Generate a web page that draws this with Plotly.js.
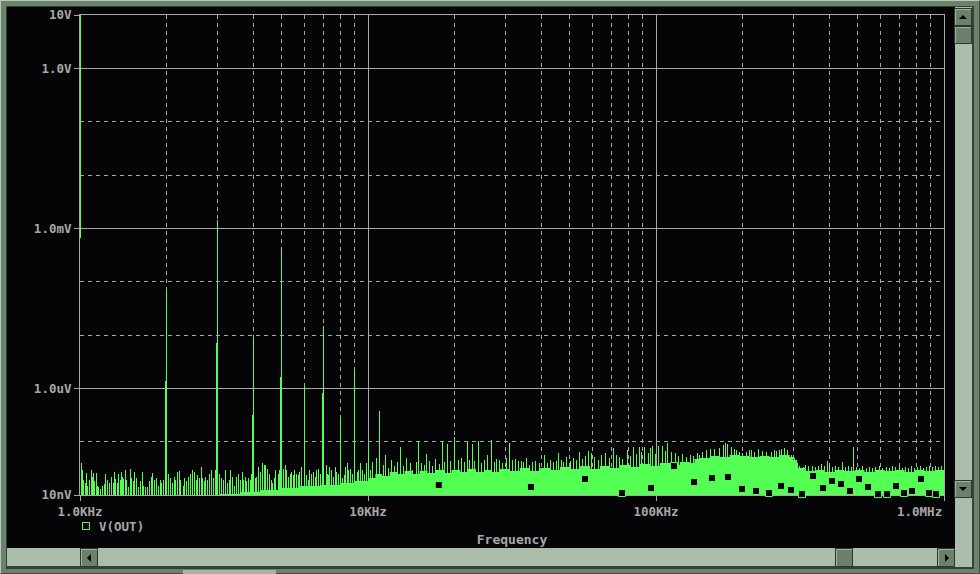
<!DOCTYPE html>
<html><head><meta charset="utf-8">
<script src="https://cdn.plot.ly/plotly-3.0.1.min.js"></script>
<style>
html,body{margin:0;padding:0;width:980px;height:574px;overflow:hidden;background:#6c826c;}
.fr{position:absolute;box-sizing:border-box;}
.btn{position:absolute;box-sizing:border-box;background:#6b816b;border:1px solid #2b372b;box-shadow:inset 1px 1px 0 #9fb39f;}
.tri{position:absolute;width:0;height:0;}
#plot{position:absolute;left:0;top:0;width:980px;height:574px;}
path.js-line{shape-rendering:crispEdges;}
</style></head><body>
<div class="fr" style="left:0;top:0;width:980px;height:574px;border-top:1px solid #b9c9b9;border-left:1px solid #b9c9b9;border-right:1px solid #3f4f3f;border-bottom:1px solid #3f4f3f;"></div>
<div class="fr" style="left:6px;top:6px;width:968px;height:563px;background:#34423a;"></div>
<div class="fr" style="left:7px;top:7px;width:948px;height:541px;background:#050507;"></div>
<div class="fr" style="left:955px;top:7px;width:17px;height:560px;background:#abbdab;"></div>
<div class="fr" style="left:7px;top:548px;width:948px;height:18px;background:#abbdab;"></div>
<div class="fr" style="left:183px;top:570px;width:93px;height:4px;background:#a3b5a3;"></div>
<div class="btn" style="left:954px;top:8px;width:18px;height:18px;"><div class="tri" style="left:4px;top:6px;border-left:4px solid transparent;border-right:4px solid transparent;border-bottom:4px solid #000;"></div></div>
<div class="btn" style="left:954px;top:26px;width:18px;height:18px;"></div>
<div class="btn" style="left:954px;top:480px;width:18px;height:18px;"><div class="tri" style="left:4px;top:6px;border-left:4px solid transparent;border-right:4px solid transparent;border-top:4px solid #000;"></div></div>
<div class="btn" style="left:80px;top:548px;width:18px;height:19px;"><div class="tri" style="left:6px;top:5px;border-top:4px solid transparent;border-bottom:4px solid transparent;border-right:4px solid #000;"></div></div>
<div class="btn" style="left:835px;top:548px;width:18px;height:19px;"></div>
<div class="btn" style="left:937px;top:548px;width:18px;height:19px;"><div class="tri" style="left:7px;top:5px;border-top:4px solid transparent;border-bottom:4px solid transparent;border-left:4px solid #000;"></div></div>
<div id="plot"></div>
<script>
// ---- data (frequencies in kHz, amplitudes in nV unless noted) ----
const xTickVals = [1e3, 1e4, 1e5, 1e6];
const xTickText = ['1.0KHz', '10KHz', '100KHz', ''];
const xLastLabel = '1.0MHz';
const yTickVals = [1e-8, 1e-6, 1e-3, 1, 10];
const yTickText = ['10nV', '1.0uV', '1.0mV', '1.0V', '10V'];
const xMinorVals = [2e3,3e3,4e3,5e3,6e3,7e3,8e3,9e3,2e4,3e4,4e4,5e4,6e4,7e4,8e4,9e4,2e5,3e5,4e5,5e5,6e5,7e5,8e5,9e5];
const yMinorVals = [1e-7, 1e-5, 1e-4, 1e-2, 1e-1];

const fundFreqK = [1.0, 1.001];
const fundV = [20, 6.6e-4];

const harmFreqK = [2, 3, 4, 5, 6, 7, 8, 9, 10, 11];
const harmPeakV = [6.7e-5, 1.43e-3, 8.4e-6, 4.3e-4, 1.1e-6, 1.5e-5, 2.8e-7, 2.1e-6, 9.4e-8, 3.8e-7];
const harmSideFreqK = [1.985, 2.98, 3.97, 4.96, 6.95];
const harmSideV = [1.37e-6, 7.1e-6, 3.2e-7, 1.63e-6, 8.2e-7];

const leftFreqK = [1.008,1.022,1.032,1.041,1.052,1.063,1.077,1.092,1.104,1.113,
1.127,1.137,1.149,1.164,1.180,1.196,1.215,1.228,1.244,1.264,
1.288,1.305,1.316,1.330,1.348,1.362,1.380,1.391,1.406,1.421,
1.437,1.452,1.472,1.495,1.511,1.531,1.552,1.573,1.594,1.616,
1.646,1.668,1.690,1.718,1.750,1.774,1.788,1.812,1.846,1.871,
1.896,1.921,1.947,1.973,2.027,2.054,2.087,2.121,2.148,2.183,
2.213,2.242,2.285,2.315,2.347,2.384,2.423,2.455,2.488,2.528,
2.562,2.596,2.638,2.667,2.702,2.738,2.775,2.827,2.865,2.904,
2.943,2.983,3.047,3.096,3.146,3.196,3.248,3.300,3.336,3.389,
3.426,3.481,3.537,3.594,3.652,3.691,3.751,3.791,3.842,3.893,
3.945,4.063,4.107,4.162,4.217,4.285,4.354,4.424,4.483,4.543,
4.616,4.666,4.728,4.792,4.870,4.922,5.082,5.150,5.219,5.289,
5.360,5.432,5.504,5.578,5.652,5.728,5.805,5.883,6.122,6.221,
6.288,6.389,6.458,6.547,6.634,6.741,6.813,6.923,7.148,7.224,
7.302,7.379,7.479,7.579,7.681,7.784,7.888,8.144,8.276,8.364,
8.476,8.567,8.705,8.846,9.182,9.281,9.430,9.582,9.711,9.842];
const leftAmpN = [40,29,19,17,26,15,19,30,22,26,
18,26,15,14,13,15,16,25,19,17,
22,17,27,20,17,25,19,27,22,20,
29,19,14,31,21,18,27,21,14,18,
27,15,14,14,18,22,26,19,21,15,
19,17,19,29,25,21,17,22,19,27,
28,19,15,21,18,22,25,29,27,19,
24,21,34,21,18,22,19,25,29,21,
29,37,25,21,19,29,17,19,29,22,
15,22,25,19,27,19,22,18,21,19,
25,21,22,34,27,39,37,37,31,25,
19,17,21,29,25,29,31,37,29,22,
25,27,24,29,25,24,27,34,24,19,
29,25,27,22,29,31,25,29,37,25,
24,34,29,22,34,27,25,21,24,34,
40,29,31,25,27,29,39,30,25,39];

const rightFreqK = [10.2,10.4,10.7,11.3,11.5,11.8,12.1,12.4,12.7,13.0,
13.3,13.6,14.0,14.3,14.7,15.0,15.3,15.7,16.0,16.4,
16.8,17.2,17.7,18.1,18.5,18.9,19.4,20.0,20.6,21.1,
21.6,22.1,22.6,23.0,23.5,24.1,24.7,25.3,26.1,26.9,
27.6,28.0,28.7,29.4,30.3,31.1,31.8,32.6,33.4,34.0,
34.8,35.6,36.5,37.4,38.3,39.3,40.9,41.9,42.9,43.9,
45.0,46.0,47.1,47.9,49.0,50.3,51.5,52.8,54.1,55.4,
56.7,58.5,59.9,61.4,62.9,64.9,67.0,68.7,71.0,72.7,
74.4,76.2,79.4,81.3,83.3,85.3,87.3,89.4,91.5,93.9,
95.4,96.9,99.2,102,105.5,108,110,113,116.5,120,
124,128,132,135,139,142,145,150,155,160,
166,171,175,177,183,187,190,195,200,206,
212,215,220,227,234,242,252,258,263,269,
273,280,286,296,303,309,316,324,331,339,
350,359,367,376,385,395,401,411,421,431,
444,455,467,479,486,498,510,522,539,552,
565,579,598,612,633,648,664,680,702,719,
736,754,772,790,810,830,849,870,891,912,
935,957,980];
const rightAmpN = [29,42,49,37,56,32,45,35,42,79,
35,49,40,29,42,103,40,37,59,43,
35,47,38,103,42,90,43,122,45,49,
42,99,45,90,43,103,40,45,56,107,
42,47,45,40,49,94,45,47,43,43,
42,49,37,42,43,40,56,40,45,42,
43,61,45,42,52,43,49,45,64,47,
54,67,61,52,45,56,61,49,76,56,
52,47,70,54,79,59,79,64,79,61,
76,83,59,83,83,67,94,64,61,54,
59,52,56,54,61,56,64,70,73,73,
76,87,94,90,79,73,70,64,61,64,
70,70,64,73,67,64,64,70,67,70,
73,76,70,56,49,40,35,34,37,35,
35,34,35,38,35,43,37,34,35,34,
42,34,35,34,79,34,32,35,32,34,
32,34,35,32,34,32,35,34,35,32,
34,32,35,32,34,35,32,34,35,34,
35,34,35];

const bodyFreqK = [3.06,3.59,4.22,4.95,5.81,6.81,7.98,9.01,
10.0,10.6,11.2,11.9,12.7,13.4,14.2,15.1,16.1,17.2,18.4,19.5,20.9,22.2,23.7,25.3,26.9,28.7,
31.1,33.7,36.5,39.6,42.9,46.4,50.3,54.5,59.0,63.9,69.3,75.0,81.3,88.0,95.4,103,112,121,131,136,
142,154,167,180,195,212,229,248,269,291,300,309,329,356,385,417,451,490,530,574,622,674,730,790,856,927,1000];
const bodyLevelN = [10.4,11.5,12.4,13.5,14.7,15.4,16.8,18.3,
20.8,24.8,22.7,27.0,24.8,28.2,24.8,28.2,25.9,29.4,25.9,29.4,27.0,30.7,27.0,29.4,27.0,30.7,
28.2,32.1,28.2,32.1,29.4,33.5,30.7,35.0,30.7,35.0,32.1,36.5,33.5,38.1,35.0,39.8,36.5,41.6,39.8,47.3,
49.4,53.9,51.6,56.2,53.9,51.6,53.9,51.6,56.2,51.6,45.3,32.1,28.2,29.4,27.0,29.4,28.2,29.4,27.0,29.4,28.2,29.4,27.0,29.4,28.2,29.4,28.2];

const markerFreqK = [17.6,36.8,56.7,76.2,96.1,115.5,135.5,156.4,177.8,198.9,222.5,246.7,271.7,294.3,321.4,350.9,380.2,408.3,438.8,471.4,506.8,544.6,590.2,634.5,681.3,726.5,774.5,831.8,887.4,937.8];
const markerAmpN = [15.4,14.1,20,10.9,13.5,35,17.5,20.8,21.8,13,11.9,10.9,14.7,12.4,10.4,22.7,13.5,18.3,16.1,11.9,20,14.1,10.4,10.4,14.7,10.9,11.9,20,10.9,10.4];

// ---- build traces ----
const GREEN = '#52ff52';
const GREY = '#a8a8a8';
const FLOOR = 1e-9;
function spikes(fk, amps, scale) {
  const x = [], y = [];
  for (let i = 0; i < fk.length; i++) {
    x.push(fk[i] * 1e3, fk[i] * 1e3, null);
    y.push(FLOOR, amps[i] * scale, null);
  }
  return {x, y};
}
const bx = bodyFreqK.map(k => k * 1e3);
const by = bodyLevelN.map(v => v * 1e-9);
bx.push(bx[bx.length - 1], bx[0]);
by.push(FLOOR, FLOOR);

const sL = spikes(leftFreqK, leftAmpN, 1e-9);
const sR = spikes(rightFreqK, rightAmpN, 1e-9);
const sH = spikes(harmFreqK, harmPeakV, 1);
const sS = spikes(harmSideFreqK, harmSideV, 1);

const lineStyle = {color: GREEN, width: 1};
const traces = [
  {x: bx, y: by, mode: 'lines', fill: 'toself', fillcolor: GREEN, line: {color: GREEN, width: 0, shape: 'hv'}, hoverinfo: 'skip', showlegend: false},
  {x: sL.x, y: sL.y, mode: 'lines', line: lineStyle, hoverinfo: 'skip', showlegend: false},
  {x: sR.x, y: sR.y, mode: 'lines', line: lineStyle, hoverinfo: 'skip', showlegend: false},
  {x: sS.x, y: sS.y, mode: 'lines', line: lineStyle, hoverinfo: 'skip', showlegend: false},
  {x: sH.x, y: sH.y, mode: 'lines', line: lineStyle, hoverinfo: 'skip', showlegend: false},
  {x: fundFreqK.map(k => k * 1e3), y: fundV, mode: 'lines', line: {color: GREEN, width: 1.5}, hoverinfo: 'skip', showlegend: false},
  {x: markerFreqK.map(k => k * 1e3), y: markerAmpN.map(v => v * 1e-9), mode: 'markers', cliponaxis: false,
   marker: {symbol: 'square', size: 7, color: '#050507', line: {color: GREEN, width: 1}}, hoverinfo: 'skip', showlegend: false}
];

const tickFont = {family: 'DejaVu Sans Mono', size: 12.5, color: GREY, weight: 'bold'};
const layout = {
  width: 980, height: 574,
  margin: {l: 80, r: 36, t: 15, b: 79},
  paper_bgcolor: 'rgba(0,0,0,0)',
  plot_bgcolor: '#050507',
  showlegend: false,
  xaxis: {
    type: 'log', range: [3, 6], fixedrange: true,
    showline: true, linecolor: GREY, linewidth: 1, mirror: true,
    tickmode: 'array', tickvals: xTickVals, ticktext: xTickText,
    ticks: 'outside', ticklen: 5, tickcolor: GREY, tickwidth: 1,
    tickfont: tickFont,
    showgrid: true, gridcolor: GREY, gridwidth: 1, zeroline: false,
    minor: {tickmode: 'array', tickvals: xMinorVals, showgrid: true, gridcolor: GREY, griddash: '4px,4px', gridwidth: 1, ticks: ''},
    layer: 'below traces',
    title: {text: 'Frequency', font: {family: 'DejaVu Sans Mono', size: 13, color: GREY, weight: 'bold'}, standoff: 16}
  },
  yaxis: {
    type: 'log', range: [-8, 1], fixedrange: true,
    showline: true, linecolor: GREY, linewidth: 1, mirror: true,
    tickmode: 'array', tickvals: yTickVals, ticktext: yTickText,
    ticks: 'outside', ticklen: 5, tickcolor: GREY, tickwidth: 1,
    tickfont: tickFont,
    showgrid: true, gridcolor: GREY, gridwidth: 1, zeroline: false,
    minor: {tickmode: 'array', tickvals: yMinorVals, showgrid: true, gridcolor: GREY, griddash: '4px,4px', gridwidth: 1, ticks: ''},
    layer: 'below traces'
  },
  annotations: [
    {xref: 'x', yref: 'paper', x: Math.log10(xTickVals[3]), y: -16 / 480, xanchor: 'right', yanchor: 'middle', showarrow: false,
     text: xLastLabel, font: tickFont},
    {xref: 'paper', yref: 'paper', x: 17 / 864, y: -31 / 480, xanchor: 'left', yanchor: 'middle', showarrow: false,
     text: 'V(OUT)', font: tickFont}
  ],
  shapes: [
    {type: 'rect', xref: 'paper', yref: 'paper', xsizemode: 'pixel', ysizemode: 'pixel',
     xanchor: 6 / 864, yanchor: -31 / 480, x0: -3.5, x1: 3.5, y0: -3.5, y1: 3.5,
     line: {color: GREEN, width: 1}, fillcolor: 'rgba(0,0,0,0)'}
  ]
};
Plotly.newPlot('plot', traces, layout, {staticPlot: true, displayModeBar: false});
</script>
</body></html>
